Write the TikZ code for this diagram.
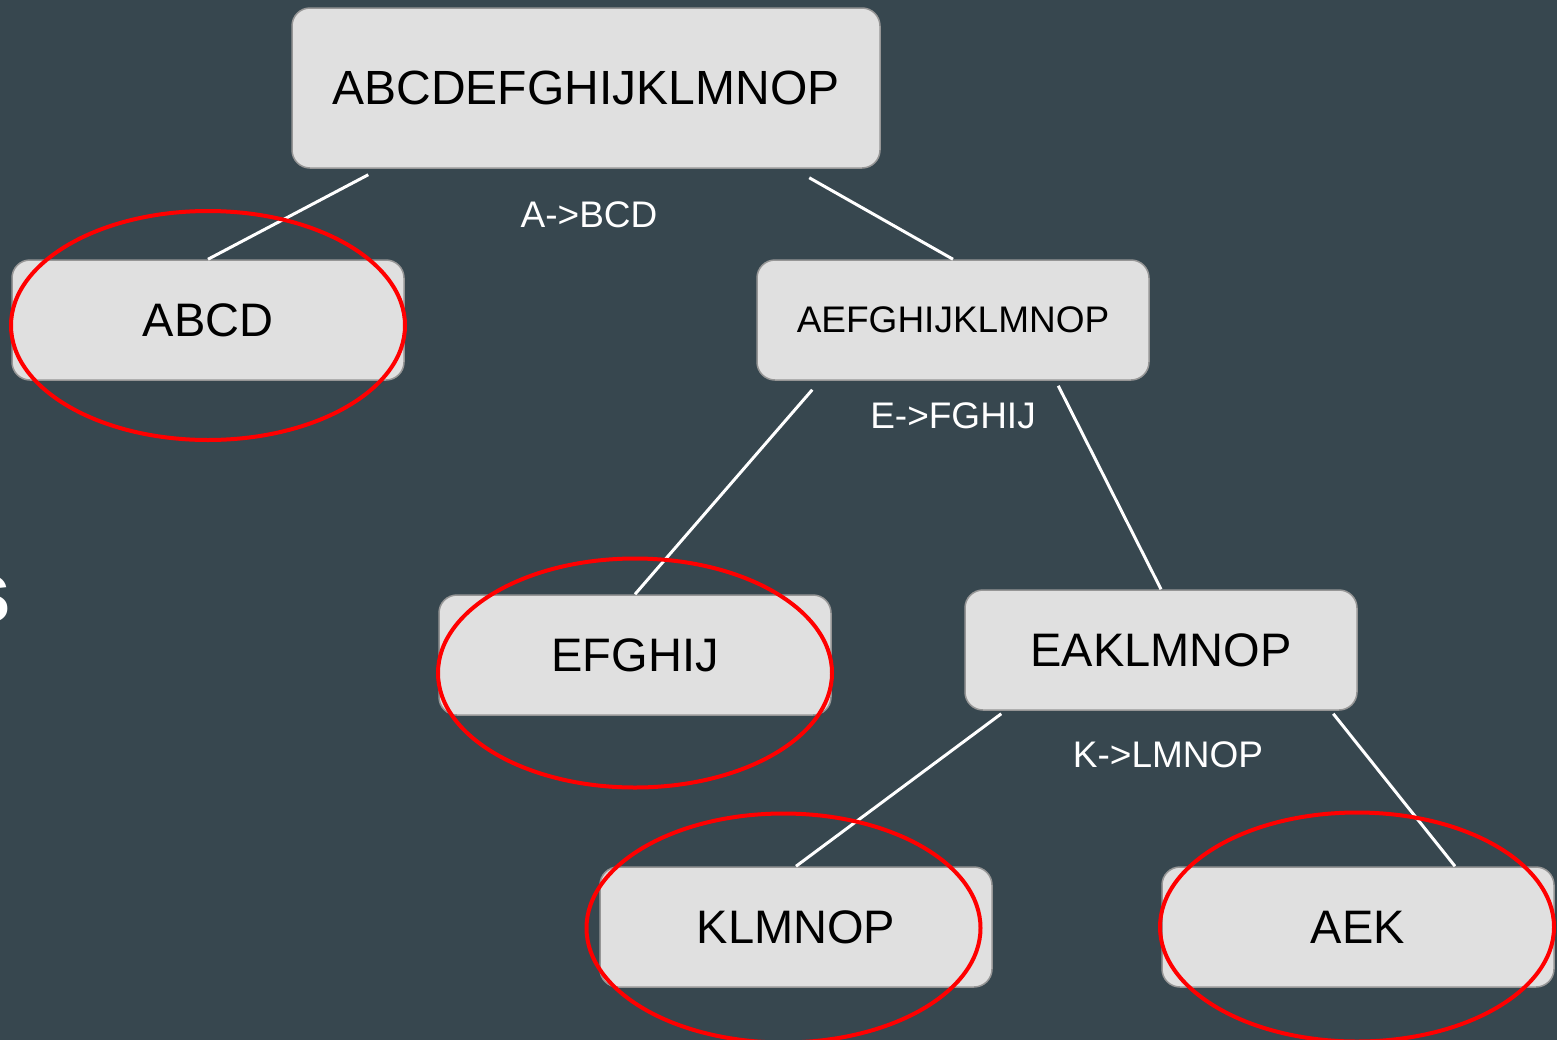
\documentclass[tikz,border=0pt]{standalone}
\usepackage{fontspec}
\setmainfont{Liberation Sans}
\usetikzlibrary{calc}
\definecolor{bg}{RGB}{55,71,79}
\definecolor{boxfill}{RGB}{224,224,224}
\definecolor{boxline}{RGB}{150,150,150}
\begin{document}
\begin{tikzpicture}[x=1pt,y=-1pt,
  box/.style={draw=boxline, line width=1.5pt, fill=boxfill, rounded corners=18pt,
    minimum width=392pt, minimum height=120pt, inner sep=0pt,
    font=\fontsize{47}{56}\selectfont, text=black},
  edge/.style={draw=white, line width=3pt},
  lbl/.style={text=white, font=\fontsize{37}{44}\selectfont, inner sep=0pt},
  ring/.style={draw=red, line width=4pt}]
\useasboundingbox (0,0) rectangle (1557,1039);
\clip (0,0) rectangle (1557,1039);
\fill[bg] (-5,-5) rectangle (1562,1044);

% partial title glyph at the left edge
\node[text=white, font=\bfseries\fontsize{88}{100}\selectfont, anchor=base east, inner sep=0pt] (s) at (12,622) {s};

% nodes
\node[box, minimum width=588pt, minimum height=160pt, font=\fontsize{48}{56}\selectfont] (root) at (586,88) {ABCDEFGHIJKLMNOP};
\node[box] (abcd) at (208,320) {ABCD};
\node[box, font=\fontsize{37}{44}\selectfont] (aef) at (953,320) {AEFGHIJKLMNOP};
\node[box] (efg) at (635,655) {EFGHIJ};
\node[box] (eak) at (1161,650) {EAKLMNOP};
\node[box] (klm) at (796,927) {KLMNOP};
\node[box] (aek) at (1358,927) {AEK};

% labels
\node[lbl] (l1) at (589,215) {A->BCD};
\node[lbl] (l2) at (953,416) {E->FGHIJ};
\node[lbl] (l3) at (1168,755) {K->LMNOP};

% connector start points
\coordinate (r1) at ($(root.south west)+(77,6)$);
\coordinate (r2) at ($(root.south west)+(518,9)$);
\coordinate (a1) at ($(aef.south west)+(56,9)$);
\coordinate (a2) at ($(aef.south west)+(302,5)$);
\coordinate (e1) at ($(eak.south west)+(37,3)$);
\coordinate (e2) at ($(eak.south west)+(369,3)$);
\coordinate (aekend) at ($(aek.north)+(97,0)$);

\draw[edge] (r1) -- (abcd.north);
\draw[edge] (r2) -- (aef.north);
\draw[edge] (a1) -- (efg.north);
\draw[edge] (a2) -- (eak.north);
\draw[edge] (e1) -- (klm.north);
\draw[edge] (e2) -- (aekend);

% red ellipses
\draw[ring] (208,325.5) ellipse [x radius=197pt, y radius=114.5pt];
\draw[ring] (635,673) ellipse [x radius=197pt, y radius=114.5pt];
\draw[ring] (783.5,928) ellipse [x radius=197pt, y radius=114.5pt];
\draw[ring] (1357,927) ellipse [x radius=197pt, y radius=114.5pt];
\end{tikzpicture}
\end{document}
